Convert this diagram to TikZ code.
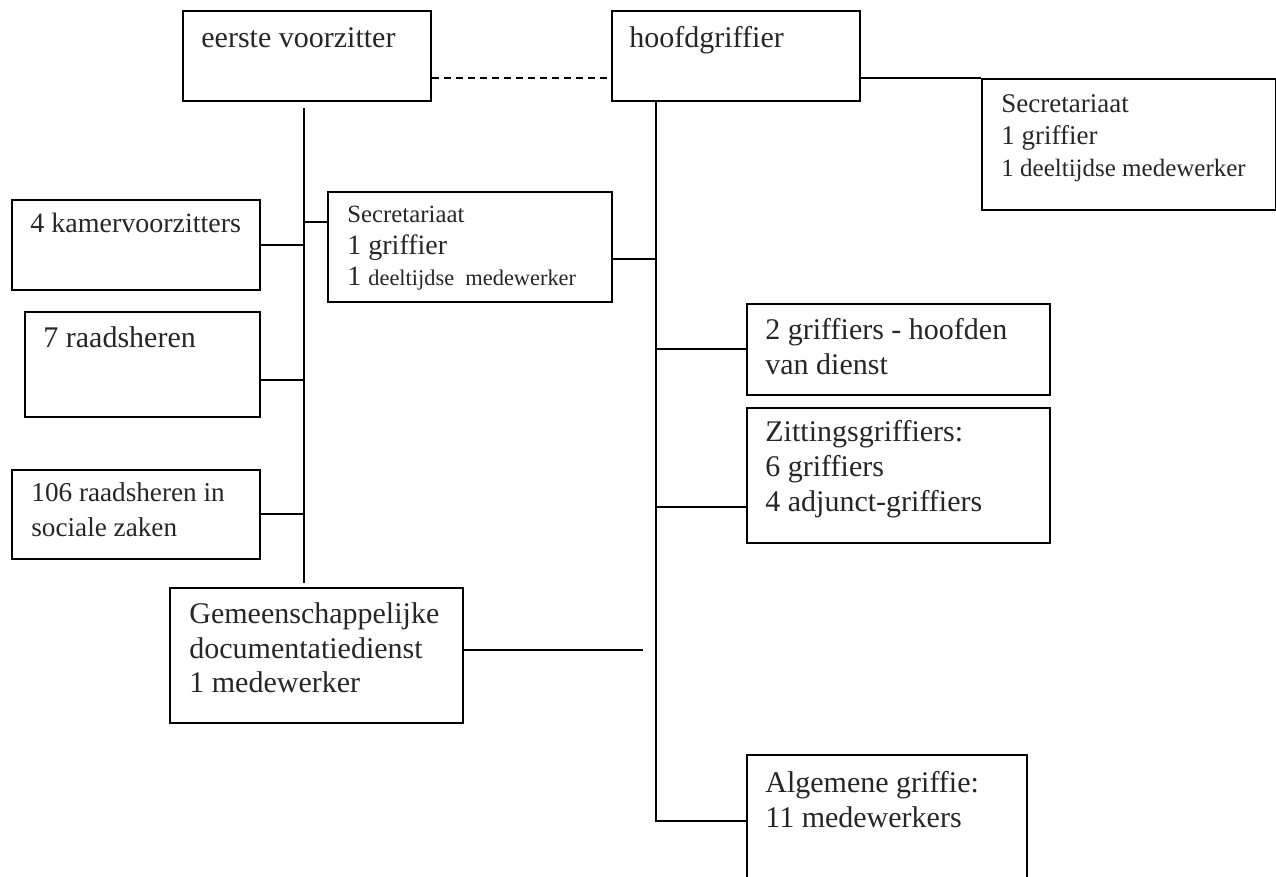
\documentclass[tikz,border=0pt]{standalone}
\usepackage{fontspec}
\setmainfont{Liberation Serif}
\usetikzlibrary{calc}

\newcommand{\boxlines}[1]{\begin{tabular}[t]{@{}l@{}}#1\end{tabular}}

\begin{document}
\begin{tikzpicture}[x=0.5pt,y=-0.5pt,
    unit/.style={draw, line width=0.8pt, anchor=north west, inner sep=0pt},
    txt/.style={anchor=base west, inner sep=0pt, text=black!85,
      font=\fontsize{15}{17.5}\selectfont},
    link/.style={line width=0.8pt}]
  \useasboundingbox (0,0) rectangle (1276,877);

  % top row
  \node[unit, minimum width=124pt, minimum height=45pt] (ev) at (182,10) {};
  \node[txt] (ev-t) at (201,48) {eerste voorzitter};
  \node[unit, minimum width=124pt, minimum height=45pt] (hg) at (611,10) {};
  \node[txt] (hg-t) at (629,48) {hoofdgriffier};
  \node[unit, minimum width=147pt, minimum height=65.5pt] (sr) at (981,78) {};
  \node[txt, font=\fontsize{13.5}{16}\selectfont] (sr-t) at (1001,113)
    {\boxlines{Secretariaat\\ 1 griffier\\ {\fontsize{12.5}{16}\selectfont 1 deeltijdse medewerker}}};

  % left column
  \node[unit, minimum width=142pt, minimum height=55pt] (sm) at (327,191) {};
  \node[txt, font=\fontsize{14}{15.75}\selectfont] (sm-t) at (347,223)
    {\boxlines{{\fontsize{12.4}{15.75}\selectfont Secretariaat}\\ 1 griffier\\ 1 {\fontsize{11.2}{15.75}\selectfont deeltijdse~~medewerker}}};
  \node[unit, minimum width=124pt, minimum height=45pt] (kv) at (11,199) {};
  \node[txt, font=\fontsize{14}{17.5}\selectfont] (kv-t) at (30,233) {4 kamervoorzitters};
  \node[unit, minimum width=117.5pt, minimum height=52.5pt] (rh) at (24,311) {};
  \node[txt] (rh-t) at (43,348) {7 raadsheren};
  \node[unit, minimum width=124pt, minimum height=44.5pt] (rs) at (11,469) {};
  \node[txt, font=\fontsize{13.6}{17.5}\selectfont] (rs-t) at (31,502)
    {\boxlines{106 raadsheren in\\ sociale zaken}};
  \node[unit, minimum width=146.5pt, minimum height=67.5pt] (gd) at (169,587) {};
  \node[txt] (gd-t) at (189,623) {\boxlines{Gemeenschappelijke\\ documentatiedienst\\ 1 medewerker}};

  % right column
  \node[unit, minimum width=151.5pt, minimum height=45.5pt] (hd) at (746,303) {};
  \node[txt] (hd-t) at (765,340) {\boxlines{2 griffiers - hoofden\\ van dienst}};
  \node[unit, minimum width=151.5pt, minimum height=67.5pt] (zg) at (746,407) {};
  \node[txt] (zg-t) at (765,442) {\boxlines{Zittingsgriffiers:\\ 6 griffiers\\ 4 adjunct-griffiers}};
  \node[unit, minimum width=140pt, minimum height=73pt] (ag) at (746,754) {};
  \node[txt] (ag-t) at (765,792) {\boxlines{Algemene griffie:\\ 11 medewerkers}};

  % eerste voorzitter branch
  \coordinate (ev-top) at (304,108);
  \coordinate (ev-bot) at (304,583);
  \draw[link] (ev-top) -- (ev-bot);
  \draw[link] (kv.east) -- (kv.east -| ev-top);
  \draw[link] ([yshift=-7.75pt]rh.east) -- ([yshift=-7.75pt]rh.east -| ev-top);
  \draw[link] (rs.east) -- (rs.east -| ev-top);
  \draw[link] ([yshift=12.5pt]sm.west) -- ([yshift=12.5pt]sm.west -| ev-top);
  \draw[link, dash pattern=on 3.5pt off 2.5pt] ([yshift=-34pt]ev.north east)
    -- ([yshift=-34pt]ev.north east -| hg.west);

  % hoofdgriffier branch
  \coordinate (hg-bot) at (656,821);
  \draw[link] ([xshift=22.5pt]hg.south west) -- (hg-bot) -- (hg-bot -| ag.west);
  \draw[link] ([yshift=-34pt]hg.north east) -- (sr.north west);
  \draw[link] ([yshift=-6pt]sm.east) -- ([yshift=-6pt]sm.east -| hg-bot);
  \draw[link] (hd.west) -- (hd.west -| hg-bot);
  \draw[link] ([yshift=-15.75pt]zg.west) -- ([yshift=-15.75pt]zg.west -| hg-bot);

  % documentatiedienst
  \coordinate (gd-end) at (643,650);
  \draw[link] (gd.east |- gd-end) -- (gd-end);
\end{tikzpicture}
\end{document}
